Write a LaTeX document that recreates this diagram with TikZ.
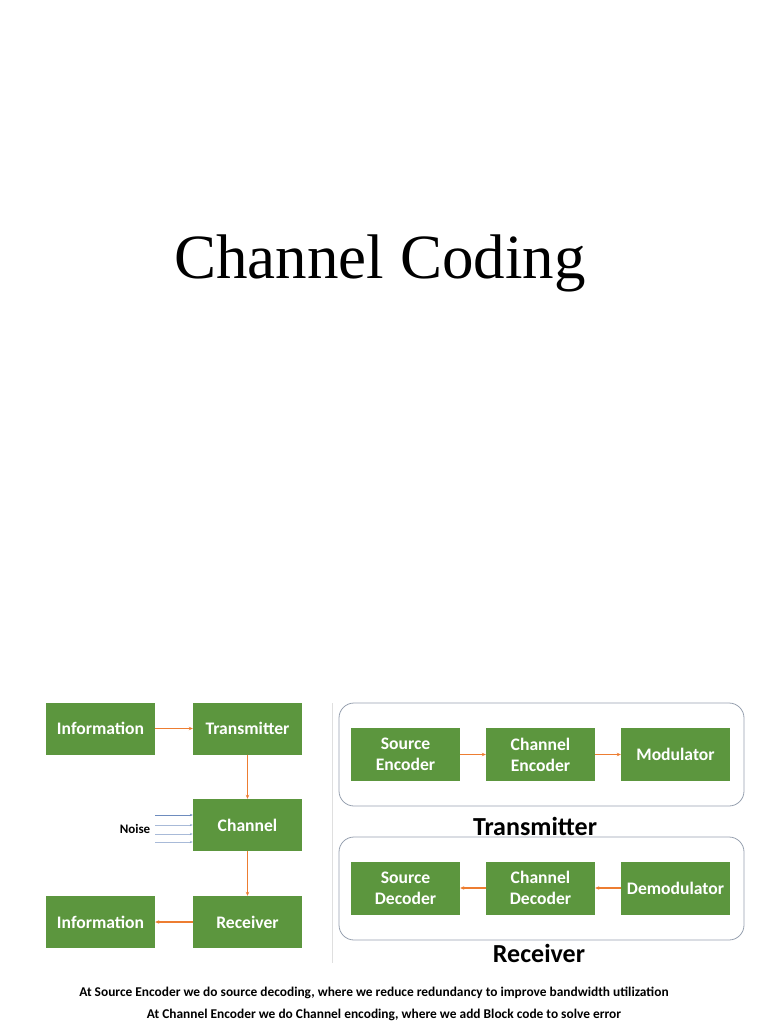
\documentclass[tikz,border=0pt]{standalone}
\usepackage{fontspec}
\setmainfont{Liberation Serif}
\newfontfamily\boxfont{Carlito}
\usetikzlibrary{arrows.meta}

\definecolor{blockgreen}{RGB}{92,150,62}
\definecolor{flowline}{RGB}{237,125,49}
\definecolor{noiseline}{RGB}{110,140,190}
\definecolor{framegray}{RGB}{150,160,175}

\tikzset{
    block/.style={rectangle,fill=blockgreen,text=white,minimum width=109pt,minimum height=52pt,
        align=center,font=\boxfont\bfseries\fontsize{17.6}{21}\selectfont,inner sep=0pt},
    frame/.style={rectangle,draw=framegray,rounded corners=15pt,minimum width=405pt,minimum height=103pt,line width=0.8pt},
    flow/.style={draw=flowline,line width=1.2pt,-{Stealth[length=4pt,width=3.5pt]}},
    noisy/.style={draw=noiseline,line width=0.5pt,-{Stealth[length=3pt,width=2.5pt]}},
    caption/.style={font=\boxfont\bfseries\fontsize{26}{30}\selectfont},
    notes/.style={font=\boxfont\bfseries\fontsize{13.4}{16}\selectfont,anchor=base}
}

\begin{document}
\begin{tikzpicture}[x=1pt,y=-1pt]
    \useasboundingbox (0,0) rectangle (768,1024);

    \node[font=\fontsize{63}{70}\selectfont,anchor=base] (title) at (380,278) {Channel Coding};

    % left: basic system
    \node[block] (I1) at (100.5,728.5) {Information};
    \node[block] (T) at (247.5,728.5) {Transmitter};
    \node[block] (C) at (247.5,825) {Channel};
    \node[block] (R) at (247.5,922) {Receiver};
    \node[block] (I2) at (100.5,922) {Information};

    \node[font=\boxfont\bfseries\fontsize{13}{15}\selectfont] (N) at (135,829) {Noise};
    \coordinate (n1) at (155,815);
    \coordinate (n2) at (155,825);
    \coordinate (n3) at (155,834);
    \coordinate (n4) at (155,842);

    \draw[flow] (I1) -- (T);
    \draw[flow] (T) -- (C);
    \draw[flow] (C) -- (R);
    \draw[flow] (R) -- (I2);
    \draw[noisy] (n1) -- (n1 -| C.west);
    \draw[noisy,opacity=0.6] (n2) -- (n2 -| C.west);
    \draw[noisy,opacity=0.6] (n3) -- (n3 -| C.west);
    \draw[noisy,opacity=0.6] (n4) -- (n4 -| C.west);

    \coordinate (s1) at (332,703);
    \coordinate (s2) at (332,963);
    \draw[gray!25,line width=1pt] (s1) -- (s2);

    % right: transmitter and receiver
    \node[frame] (TF) at (541.5,754.5) {};
    \node[frame] (RF) at (541.5,888.5) {};

    \node[block,minimum height=53pt] (SE) at (405.5,754.5) {Source\\Encoder};
    \node[block,minimum height=53pt] (CE) at (540.5,754.5) {Channel\\Encoder};
    \node[block,minimum height=53pt] (M) at (675.5,754.5) {Modulator};

    \node[block,minimum height=53pt] (SD) at (405.5,888) {Source\\Decoder};
    \node[block,minimum height=53pt] (CD) at (540.5,888) {Channel\\Decoder};
    \node[block,minimum height=53pt] (DM) at (675.5,888) {Demodulator};

    \draw[flow] (SE) -- (CE);
    \draw[flow] (CE) -- (M);
    \draw[flow] (DM) -- (CD);
    \draw[flow] (CD) -- (SD);

    \node[caption] (TL) at (535,826) {Transmitter};
    \node[caption] (RL) at (539,953) {Receiver};

    \node[notes] (L1) at (374,996) {At Source Encoder we do source decoding, where we reduce redundancy to improve bandwidth utilization};
    \node[notes] (L2) at (384,1018) {At Channel Encoder we do Channel encoding, where we add Block code to solve error};
\end{tikzpicture}
\end{document}
